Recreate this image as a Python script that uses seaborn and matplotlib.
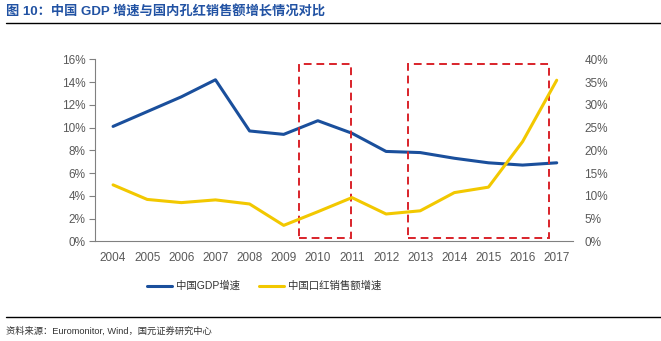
import matplotlib
matplotlib.use("Agg")
import matplotlib.pyplot as plt
import seaborn as sns
import pandas as pd
from matplotlib.patches import Rectangle
from matplotlib.lines import Line2D
from matplotlib.ticker import FuncFormatter

years = [2004, 2005, 2006, 2007, 2008, 2009, 2010, 2011, 2012, 2013, 2014, 2015, 2016, 2017]
gdp_growth = [10.1, 11.4, 12.7, 14.2, 9.7, 9.4, 10.6, 9.5, 7.9, 7.8, 7.3, 6.9, 6.7, 6.9]
lipstick_growth = [12.4, 9.2, 8.5, 9.1, 8.2, 3.5, 6.5, 9.6, 6.0, 6.7, 10.7, 11.9, 21.9, 35.4]
series_names = ["中国GDP增速", "中国口红销售额增速"]
title = "图 10：中国 GDP 增速与国内孔红销售额增长情况对比"
source = "资料来源：Euromonitor, Wind，国元证券研究中心"

sns.set_theme(style="white")
plt.rcParams['font.family'] = ['Liberation Sans', 'Noto Sans CJK SC', 'DejaVu Sans']

blue = "#1A4F9C"
yellow = "#F2C800"
red = "#D9232A"
gray = "#595959"

df = pd.DataFrame({"year": years, "gdp": gdp_growth, "lip": lipstick_growth})

fig = plt.figure(figsize=(6.61, 3.41), dpi=100)
ax = fig.add_axes([0.1437, 0.2924, 0.7233, 0.5337])
ax2 = ax.twinx()

sns.lineplot(data=df, x="year", y="gdp", ax=ax, color=blue, linewidth=2.2)
sns.lineplot(data=df, x="year", y="lip", ax=ax2, color=yellow, linewidth=2.2)

ax.set_xlim(2003.47, 2017.48)
ax.set_ylim(0, 16)
ax2.set_ylim(0, 40)
ax.set_yticks(range(0, 17, 2))
ax2.set_yticks(range(0, 41, 5))
ax.set_xticks(years)
ax.yaxis.set_major_formatter(FuncFormatter(lambda v, p: f"{int(v)}%"))
ax2.yaxis.set_major_formatter(FuncFormatter(lambda v, p: f"{int(v)}%"))
ax.set_xlabel("")
ax.set_ylabel("")
ax2.set_ylabel("")

for a in (ax, ax2):
    for s in a.spines.values():
        s.set_visible(False)
    a.grid(False)
ax.spines['left'].set_visible(True)
ax.spines['bottom'].set_visible(True)
ax.spines['left'].set_color("#808080")
ax.spines['bottom'].set_color("#808080")
ax.spines['left'].set_linewidth(0.8)
ax.spines['bottom'].set_linewidth(0.8)
ax.tick_params(axis='y', left=True, length=4, width=0.8, color="#808080", labelsize=8.5, labelcolor=gray, pad=3)
ax.tick_params(axis='x', bottom=False, labelsize=8.5, labelcolor=gray, pad=1.5)
ax2.tick_params(axis='y', right=False, labelsize=8.5, labelcolor=gray, pad=2)

# red dashed highlight boxes (in GDP axis coordinates)
for x0, x1 in [(2009.45, 2010.97), (2012.65, 2016.78)]:
    ax.add_patch(Rectangle((x0, 0.28), x1 - x0, 15.3, fill=False, edgecolor=red,
                           linestyle=(0, (4, 2.5)), linewidth=1.4, zorder=5, clip_on=False))

handles = [Line2D([], [], color=blue, linewidth=2.2), Line2D([], [], color=yellow, linewidth=2.2)]
fig.legend(handles, series_names, loc="center", bbox_to_anchor=(0.4, 0.161), ncol=2,
           frameon=False, fontsize=7.5, handlelength=2.4, columnspacing=1.8, handletextpad=0.4,
           labelcolor="#333333")

fig.text(0.009, 0.965, title, color="#2152A3", fontsize=9.5, fontweight="bold", va="center", ha="left")
fig.add_artist(Line2D([0.009, 1.0], [0.932, 0.932], color="black", linewidth=1.0, transform=fig.transFigure))
fig.add_artist(Line2D([0.009, 1.0], [0.07, 0.07], color="black", linewidth=1.0, transform=fig.transFigure))
fig.text(0.009, 0.029, source, color="#333333", fontsize=6.7, va="center", ha="left")

fig.savefig("out.png", dpi=100)
